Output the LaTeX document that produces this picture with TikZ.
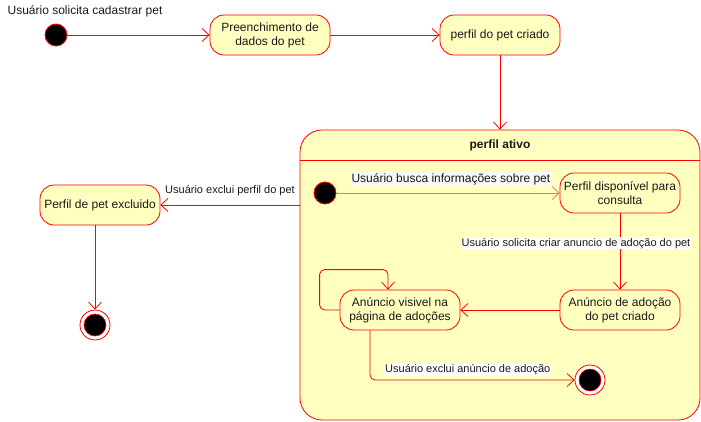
\documentclass[tikz,border=0pt]{standalone}
\usepackage{fontspec}
\setmainfont{Liberation Sans}
\usetikzlibrary{arrows.meta}
\definecolor{umlred}{HTML}{FF0000}
\definecolor{umlfill}{HTML}{FFFFC0}
\definecolor{salmon}{HTML}{FF7060}
\definecolor{txt}{HTML}{1A1A1A}
\definecolor{lblbg}{HTML}{F8F8F8}
\begin{document}
\begin{tikzpicture}[x=1pt,y=-1pt,
  every node/.style={font=\fontsize{12}{14}\selectfont, text=txt},
  statebox/.style={draw=umlred, fill=umlfill, rounded corners=14pt, minimum width=120pt, minimum height=40pt, align=center, inner sep=2pt, line width=0.8pt},
  initstate/.style={circle, draw=umlred, fill=black, minimum size=22pt, inner sep=0pt, line width=0.8pt},
  finalstate/.style={circle, draw=umlred, fill=white, minimum size=30pt, inner sep=0pt, line width=0.8pt},
  finalcore/.style={circle, fill=black, draw=umlred, minimum size=22pt, inner sep=0pt, line width=0.6pt},
  flow/.style={draw=umlred, line width=0.8pt, -{Straight Barb[length=7pt,width=13pt]}},
  lbl/.style={fill=white, inner sep=1pt, font=\fontsize{11}{13}\selectfont}
]
\useasboundingbox (0,0) rectangle (701,421);

% container
\node[draw=umlred, fill=umlfill, rounded corners=22pt, minimum width=400pt, minimum height=290pt, inner sep=0pt, line width=0.8pt] (ativo) at (500,275) {};
\coordinate (hl) at (300,160);
\coordinate (hr) at (700,160);
\draw[umlred, line width=0.8pt] (hl) -- (hr);
\node[font=\bfseries\fontsize{12}{14}\selectfont] (ativotitle) at (500,145) {perfil ativo};

% top row
\node[initstate] (i1) at (56,35) {};
\node (i1lbl) at (85,11) {Usuário solicita cadastrar pet};
\node[statebox] (pre) at (270,35) {Preenchimento de\\dados do pet};
\node[statebox] (criado) at (500,35) {perfil do pet criado};

% inside
\node[initstate] (i2) at (325,193) {};
\node[statebox] (disp) at (620,193) {Perfil disponível para\\consulta};
\node[statebox] (anun) at (620,310) {Anúncio de adoção\\do pet criado};
\node[statebox] (vis) at (400,310) {Anúncio visivel na\\página de adoções};
\node[finalstate] (f1) at (590,380) {};
\node[finalcore] (f1in) at (590,380) {};

% left
\node[statebox] (excl) at (100,205) {Perfil de pet excluido};
\node[finalstate] (f2) at (95,325) {};
\node[finalcore] (f2in) at (95,325) {};

% edges
\draw[flow] (i1) -- (pre);
\draw[flow] (pre) -- (criado);
\draw[flow] (criado) -- (ativo.north);
\draw[flow, draw=salmon] (i2) -- node[lbl, pos=0.513, yshift=14pt, fill=lblbg, font=\fontsize{12}{14}\selectfont] {Usuário busca informações sobre pet} (disp);
\draw[flow] (disp) -- node[lbl, pos=0.39, xshift=-44pt] {Usuário solicita criar anuncio de adoção do pet} (anun);
\draw[flow] (anun) -- (vis);
\draw[flow, rounded corners=5pt] (vis.west) -- ++(-20,0) |- ([xshift=-12pt,yshift=20pt]vis.north) -- ([xshift=-12pt]vis.north);
\draw[flow, rounded corners=5pt] ([xshift=-30pt]vis.south) |- node[lbl, pos=0.739, yshift=10pt] {Usuário exclui anúncio de adoção} (f1);
\draw[flow] (ativo.west |- excl.east) -- node[lbl, pos=0.5, yshift=14pt] {Usuário exclui perfil do pet} (excl.east);
\draw[flow] (excl.south -| f2) -- (f2);
\end{tikzpicture}
\end{document}
